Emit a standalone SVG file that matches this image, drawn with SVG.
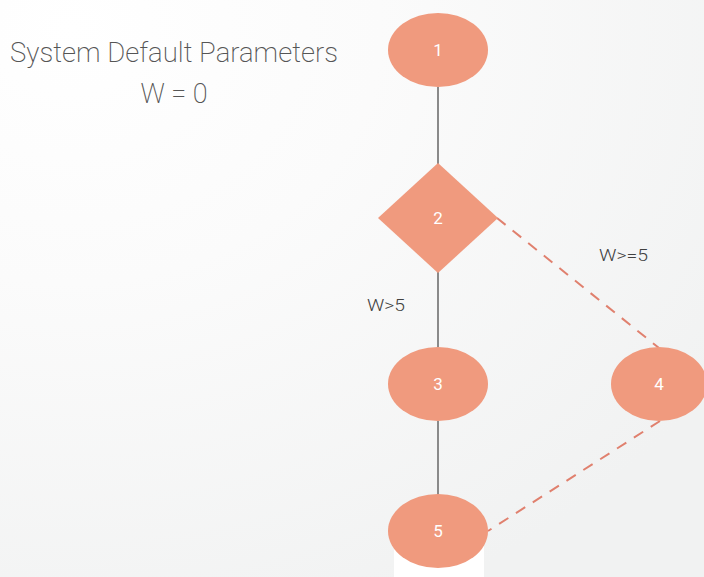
<svg xmlns="http://www.w3.org/2000/svg" width="704" height="577" viewBox="0 0 704 577">
<style>
.node{fill:#f09a7e}
.nl{font-family:Roboto,"Liberation Sans",sans-serif;font-size:17px;fill:#ffffff;text-anchor:middle}
.solid{stroke:#8a8a8a;stroke-width:2;fill:none}
.dash{stroke:#e0806e;stroke-width:2;fill:none;stroke-dasharray:11 9}
.lbl{font-family:Roboto,"Liberation Sans",sans-serif;font-size:17px;fill:#404040;font-weight:300}
.title{font-family:Roboto,"Liberation Sans",sans-serif;font-size:27px;fill:#555555;font-weight:200;text-anchor:middle}
</style>
<defs>
<radialGradient id="bg" cx="0.1" cy="0.05" r="1.1">
<stop offset="0" stop-color="#ffffff"/>
<stop offset="0.4" stop-color="#fbfbfb"/>
<stop offset="1" stop-color="#f1f2f2"/>
</radialGradient>
</defs>
<rect x="0" y="0" width="704" height="577" fill="url(#bg)"/>
<rect x="394" y="545" width="90" height="32" fill="#ffffff"/>
<g id="title">
<text class="title" x="174" y="62" textLength="328" lengthAdjust="spacingAndGlyphs">System Default Parameters</text>
<text class="title" x="174" y="103">W = 0</text>
</g>
<g id="connectors">
<line class="solid" x1="438" y1="87" x2="438" y2="164"/>
<line class="solid" x1="438" y1="272" x2="438" y2="347"/>
<line class="solid" x1="438" y1="421" x2="438" y2="495"/>
<line class="dash" x1="497" y1="218" x2="659" y2="348"/>
<line class="dash" x1="660" y1="421" x2="488" y2="531"/>
<text class="lbl" x="367" y="311" textLength="38" lengthAdjust="spacingAndGlyphs">W&gt;5</text>
<text class="lbl" x="599" y="261" textLength="49" lengthAdjust="spacingAndGlyphs">W&gt;=5</text>
</g>
<g id="n1"><ellipse class="node" cx="438" cy="50" rx="50" ry="37"/><text class="nl" x="438" y="56">1</text></g>
<g id="n2"><polygon class="node" points="438,163 498,218 438,273 378,218"/><text class="nl" x="438" y="224">2</text></g>
<g id="n3"><ellipse class="node" cx="438" cy="384" rx="50" ry="37"/><text class="nl" x="438" y="390">3</text></g>
<g id="n4"><ellipse class="node" cx="659" cy="384" rx="48" ry="37"/><text class="nl" x="659" y="390">4</text></g>
<g id="n5"><ellipse class="node" cx="438" cy="531" rx="50" ry="37"/><text class="nl" x="438" y="537">5</text></g>
</svg>
